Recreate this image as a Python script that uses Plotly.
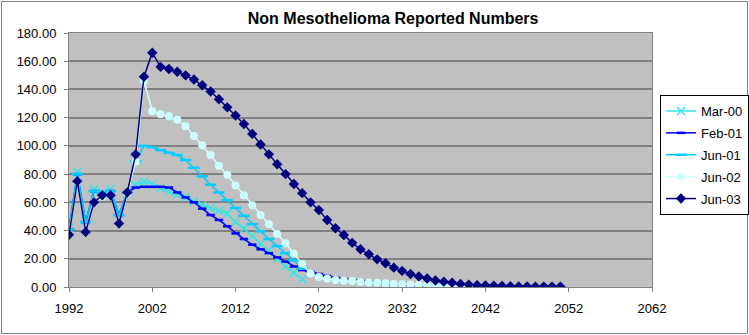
import plotly.graph_objects as go

start_year = 1992
series_names = ["Mar-00", "Feb-01", "Jun-01", "Jun-02", "Jun-03"]

mar00 = [42, 81.5, 47, 69, 67, 69.5, 52, 66.5, 72.5, 74.5, 73, 70, 67.5, 65.5, 63.5,
         60.5, 58, 56, 54, 52, 46, 41.5, 36, 30.5, 25.5, 20, 14.5, 10, 5.5]
feb01 = [41, 80, 46, 68, 66, 68, 51, 67, 70.5, 71, 71, 71, 70.5, 67, 63.5, 60, 55.5,
         51, 47.5, 43, 38, 34, 30, 26.7, 24, 21, 18, 14.5, 12, 10.8, 9.2, 7.8, 6.6,
         5.7, 4.9, 4.3, 3.7, 3.2, 2.7, 2.2, 1.7, 1.3, 0.9, 0.5]
jun01 = [41, 80, 46, 68, 66, 68, 51, 67, 89, 100, 99, 97, 95, 93.5, 90, 84.5, 78.5,
         72.5, 67, 61.5, 56, 50.5, 44.5, 39.5, 34, 29, 24, 19, 13]
jun02 = [37, 75, 39, 60, 64, 65, 45, 66, 89, 146, 124.5, 122.5, 121, 118.5, 114, 107,
         100.5, 93.5, 86, 79.5, 72, 65, 58, 51, 44.5, 37.5, 31, 23.5, 16.5, 9.5, 7,
         5.8, 5, 4.5, 4.2, 3.6, 3.2, 3.0, 2.6, 2.2, 2.0, 1.8, 1.4, 1.2, 0.9, 0.7, 0.6,
         0.4, 0.3]
jun03 = [37, 75, 39, 60, 65, 65, 45, 67, 94, 149, 166, 156, 154.5, 152.5, 150, 147,
         143, 138.5, 133, 127.3, 121.5, 115.5, 108.5, 101, 94, 87, 80, 73, 66.5, 60,
         54.5, 47.5, 41.6, 36.8, 31.3, 26.7, 23.2, 19.6, 16.8, 13.7, 11.4, 9.2, 7.5,
         6.0, 4.6, 3.8, 3.0, 2.2, 1.7, 1.2, 1.1, 1.0, 0.8, 0.5, 0.4, 0.4, 0.3, 0.3,
         0.3, 0.3]

series_values = [mar00, feb01, jun01, jun02, jun03]
colors = ["#33E6E6", "#0000FF", "#00CCFF", "#CCFFFF", "#000080"]
symbols = ["x-thin", "line-ew", "line-ew", "circle", "diamond"]
sizes = [8, 6, 8, 8, 8]

fig = go.Figure()
for i, (name, vals) in enumerate(zip(series_names, series_values)):
    years = [start_year + k for k in range(len(vals))]
    sym = symbols[i]
    if sym in ("x-thin", "line-ew"):
        marker = dict(symbol=sym, size=sizes[i], line=dict(color=colors[i], width=2.5 if sym == "line-ew" else 1.5))
    else:
        marker = dict(symbol=sym, size=sizes[i], color=colors[i], line=dict(width=0))
    fig.add_trace(go.Scatter(
        x=years, y=vals, name=name, mode="lines+markers",
        line=dict(color=colors[i], width=1.5),
        marker=marker, legendgroup=name,
    ))

L, R, T, B = 69, 652, 33, 287
W, H = 749, 335
pw, ph = R - L, B - T

def px_x(p):
    return (p - L) / pw

def px_y(p):
    return (B - p) / ph

fig.update_layout(
    width=W, height=H,
    margin=dict(l=L, r=W - R, t=T, b=H - B, pad=0, autoexpand=False),
    paper_bgcolor="white",
    plot_bgcolor="#C0C0C0",
    font=dict(family="Liberation Sans, Arial, sans-serif", size=13, color="black"),
    title=dict(text="<b>Non Mesothelioma Reported Numbers</b>", x=px_x(375), xanchor="center",
               y=1 - 18 / H, yanchor="middle", font=dict(size=16)),
    xaxis=dict(range=[1992, 2062], dtick=10, tick0=1992, showgrid=False, zeroline=False,
               showline=True, linecolor="#808080", linewidth=1, mirror=True,
               ticks="outside", ticklen=4, tickcolor="#808080", tickfont=dict(size=13),
               ticklabelstandoff=5),
    yaxis=dict(range=[0, 180], dtick=20, tickformat=".2f", showgrid=True,
               gridcolor="#808080", gridwidth=1.5, zeroline=False,
               showline=True, linecolor="#808080", linewidth=1, mirror=True,
               ticks="outside", ticklen=4, tickcolor="#808080", tickfont=dict(size=13),
               ticklabelstandoff=5),
    legend=dict(x=px_x(660), y=px_y(95), xanchor="left", yanchor="top",
                bgcolor="white", bordercolor="black", borderwidth=1,
                font=dict(size=13), tracegroupgap=2, itemwidth=30),
    showlegend=True,
)

fig.add_shape(type="rect", xref="paper", yref="paper",
              x0=px_x(1.5), x1=px_x(747.5), y0=px_y(333.5), y1=px_y(1.5),
              line=dict(color="#808080", width=1), layer="below")

fig.write_html("out.html")
